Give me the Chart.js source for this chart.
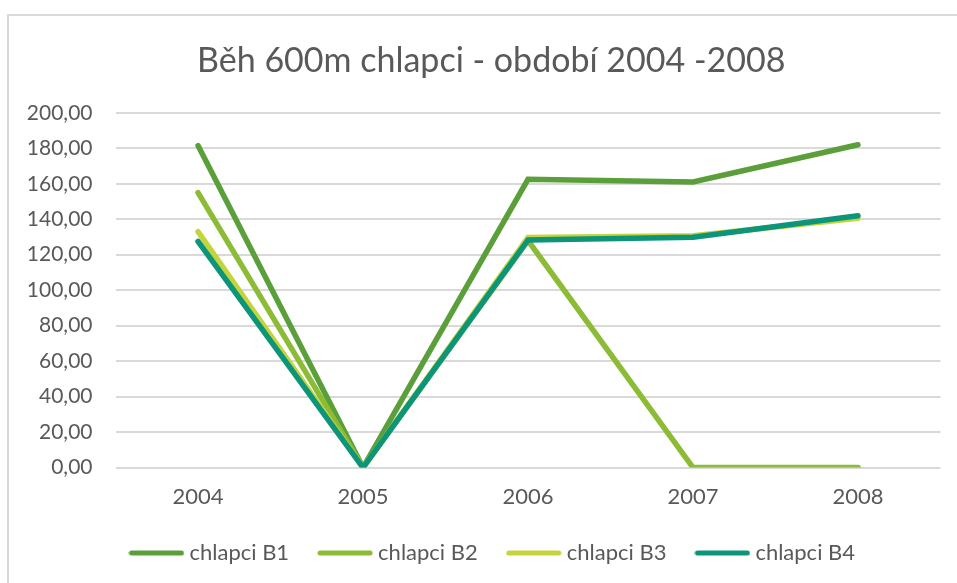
<!DOCTYPE html>
<html>
<head>
<meta charset="utf-8">
<script src="https://cdn.jsdelivr.net/npm/chart.js@4/dist/chart.umd.min.js"></script>
<style>
  html, body { margin: 0; padding: 0; background: #fff; overflow: hidden; }
  #frame { position: absolute; left: 7px; top: 14px; width: 1200px; height: 800px;
           border-left: 2px solid #d9d9d9; border-top: 2px solid #d9d9d9; }
  #wrap { position: absolute; left: 0; top: 0; width: 957px; height: 583px; }
</style>
</head>
<body>
<div id="frame"></div>
<div id="wrap"><canvas id="chart"></canvas></div>
<script>
// roky
const years = ['2004', '2005', '2006', '2007', '2008'];

// hodnoty jednotlivých skupin
const b1 = [181.5, 0, 162.5, 161, 182];
const b2 = [155, 0, 128, 0, 0];
const b3 = [133, 0, 129.7, 130.7, 140.5];
const b4 = [127.5, 0, 128.3, 129.8, 142];

const seriesNames = ['chlapci B1', 'chlapci B2', 'chlapci B3', 'chlapci B4'];
const seriesColors = ['#5a9f3a', '#8cbb35', '#c6d43b', '#0d957a'];

const textColor = '#595959';
const fontFamily = 'Lato, "Open Sans", sans-serif';

// značka do legendy: krátká čára se zakulacenými konci
function legendLine(color) {
  const c = document.createElement('canvas');
  c.width = 56;
  c.height = 8;
  const g = c.getContext('2d');
  g.strokeStyle = color;
  g.lineWidth = 5;
  g.lineCap = 'round';
  g.beginPath();
  g.moveTo(3, 4);
  g.lineTo(53, 4);
  g.stroke();
  return c;
}

function makeSet(i, values) {
  return {
    label: seriesNames[i],
    data: values,
    borderColor: seriesColors[i],
    backgroundColor: seriesColors[i],
    borderWidth: 5.5,
    borderCapStyle: 'round',
    borderJoinStyle: 'miter',
    pointRadius: 0,
    pointHoverRadius: 0,
    pointStyle: legendLine(seriesColors[i]),
    tension: 0,
    fill: false,
    order: 4 - i // pozdější řada se kreslí navrch
  };
}

// legenda zabírá méně místa na výšku, nadpis a legenda jsou trochu vpravo
const legendTrim = 18;
const tweakBoxes = {
  id: 'tweakBoxes',
  afterInit(chart) {
    const c = chart.ctx;
    const lg = chart.legend;
    if (lg) {
      const fit = lg.fit.bind(lg);
      lg.fit = () => { fit(); lg.height -= legendTrim; };
      const draw = lg.draw.bind(lg);
      lg.draw = (area) => {
        const top = lg.top;
        lg.top -= legendTrim;
        c.save();
        c.translate(12.5, 0);
        draw(area);
        c.restore();
        lg.top = top;
      };
    }
    const tb = chart.titleBlock;
    if (tb) {
      const draw = tb.draw.bind(tb);
      tb.draw = (area) => {
        c.save();
        c.translate(9, 0);
        draw(area);
        c.restore();
      };
    }
  }
};

const ctx = document.getElementById('chart').getContext('2d');
new Chart(ctx, {
  type: 'line',
  data: {
    labels: years,
    datasets: [makeSet(0, b1), makeSet(1, b2), makeSet(2, b3), makeSet(3, b4)]
  },
  plugins: [tweakBoxes],
  options: {
    responsive: true,
    maintainAspectRatio: false,
    animation: false,
    layout: { padding: { left: 24, right: 16.5, top: 0, bottom: 9 } },
    plugins: {
      title: {
        display: true,
        text: 'Běh 600m chlapci - období 2004 -2008',
        color: textColor,
        font: { family: fontFamily, size: 34, weight: 'normal' },
        padding: { top: 41, bottom: 31 }
      },
      legend: {
        position: 'bottom',
        labels: {
          usePointStyle: true,
          pointStyleWidth: 44,
          boxHeight: 20,
          padding: 34,
          color: textColor,
          font: { family: fontFamily, size: 22 },
          sort: (a, b) => a.datasetIndex - b.datasetIndex
        }
      },
      tooltip: { enabled: false }
    },
    scales: {
      x: {
        offset: true,
        grid: { display: false, drawTicks: false },
        border: { display: false },
        ticks: { color: textColor, font: { family: fontFamily, size: 22 }, padding: 16 }
      },
      y: {
        min: 0,
        max: 200,
        grid: { color: '#d9d9d9', lineWidth: 2, drawTicks: false },
        border: { display: false },
        ticks: {
          stepSize: 20,
          padding: 23,
          color: textColor,
          font: { family: fontFamily, size: 21 },
          callback: v => v.toFixed(2).replace('.', ',')
        },
        afterFit: scale => { scale.width = 91.5; }
      }
    }
  }
});
</script>
</body>
</html>
